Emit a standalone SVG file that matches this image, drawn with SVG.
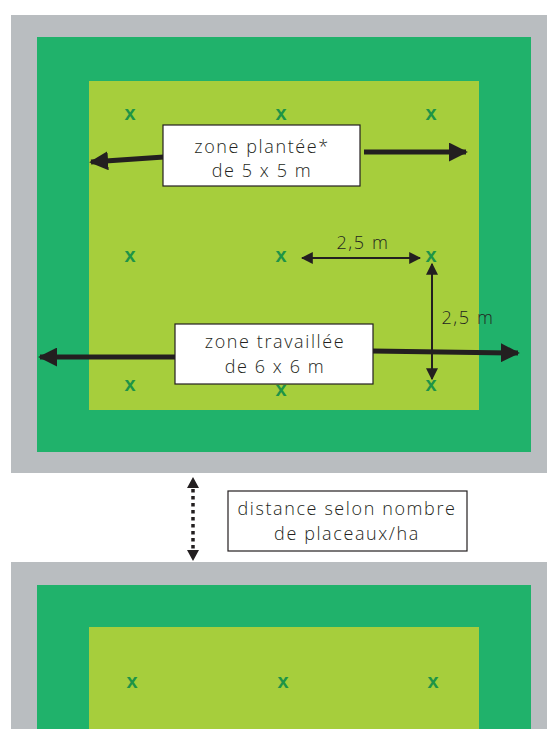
<svg xmlns="http://www.w3.org/2000/svg" width="547" height="729" viewBox="0 0 547 729">
<style>
.gray{fill:#B9BDC0}
.green{fill:#20B26B}
.light{fill:#A6CE3C}
.x{font-family:"Liberation Sans",Arial,sans-serif;font-weight:bold;font-size:20px;fill:#1E9447;text-anchor:middle}
.lbl{font-family:"Open Sans","Liberation Sans",sans-serif;font-weight:300;font-size:18px;fill:#231F20;text-anchor:middle;letter-spacing:1.6px}
.box{fill:#fff;stroke:#231F20;stroke-width:1.2}
.thick{stroke:#231F20;stroke-width:5;fill:none}
.thin{stroke:#231F20;stroke-width:2;fill:none}
.dot{stroke:#231F20;stroke-width:3.5;fill:none;stroke-dasharray:3.5 3.5}
</style>
<defs>
<marker id="big" viewBox="0 0 10 10" refX="9" refY="5" markerUnits="userSpaceOnUse" markerWidth="19" markerHeight="19" orient="auto-start-reverse">
<path d="M0,0 L10,5 L0,10 Z" fill="#231F20"/>
</marker>
<marker id="small" viewBox="0 0 10 10" refX="9" refY="5" markerUnits="userSpaceOnUse" markerWidth="12" markerHeight="12" orient="auto-start-reverse">
<path d="M0,0 L10,5 L0,10 Z" fill="#231F20"/>
</marker>
</defs>
<g id="plot1">
<rect class="gray" x="11" y="15" width="536" height="458"/>
<rect class="green" x="37" y="37" width="494" height="415"/>
<rect class="light" x="89" y="81" width="390" height="329"/>
</g>
<g id="plot2">
<rect class="gray" x="11" y="562" width="536" height="167"/>
<rect class="green" x="37" y="585" width="494" height="144"/>
<rect class="light" x="89" y="627" width="390" height="102"/>
</g>
<g id="markers">
<text class="x" x="130" y="120">x</text>
<text class="x" x="281" y="120">x</text>
<text class="x" x="431" y="120">x</text>
<text class="x" x="130" y="262">x</text>
<text class="x" x="281" y="262">x</text>
<text class="x" x="431" y="262">x</text>
<text class="x" x="130" y="391">x</text>
<text class="x" x="281" y="396">x</text>
<text class="x" x="431" y="391">x</text>
<text class="x" x="132" y="688">x</text>
<text class="x" x="283" y="688">x</text>
<text class="x" x="433" y="688">x</text>
</g>
<g id="connectors">
<line class="thick" x1="164" y1="157" x2="91" y2="162" marker-end="url(#big)"/>
<line class="thick" x1="364" y1="152" x2="466" y2="152" marker-end="url(#big)"/>
<line class="thick" x1="176" y1="357" x2="40" y2="357" marker-end="url(#big)"/>
<line class="thick" x1="372" y1="351" x2="518" y2="353" marker-end="url(#big)"/>
<line class="thin" x1="302" y1="258" x2="420" y2="258" marker-start="url(#small)" marker-end="url(#small)"/>
<line class="thin" x1="432" y1="264" x2="432" y2="379" marker-start="url(#small)" marker-end="url(#small)"/>
<line class="dot" x1="193" y1="489" x2="193" y2="551"/>
<path d="M187,488 L193,477 L199,488 Z M187,550 L193,561 L199,550 Z" fill="#231F20"/>
</g>
<g id="label-25h">
<text class="lbl" x="363" y="249">2,5 m</text>
</g>
<g id="label-25v">
<text class="lbl" x="468" y="324">2,5 m</text>
</g>
<g id="zone-plantee">
<rect class="box" x="163" y="125" width="197" height="61"/>
<text class="lbl" x="262" y="153">zone plantée*</text>
<text class="lbl" x="262" y="177">de 5 x 5 m</text>
</g>
<g id="zone-travaillee">
<rect class="box" x="175" y="324" width="198" height="60"/>
<text class="lbl" x="275" y="348">zone travaillée</text>
<text class="lbl" x="275" y="373">de 6 x 6 m</text>
</g>
<g id="distance">
<rect class="box" x="228" y="491" width="239" height="60"/>
<text class="lbl" x="347" y="515">distance selon nombre</text>
<text class="lbl" x="347" y="540">de placeaux/ha</text>
</g>
</svg>
